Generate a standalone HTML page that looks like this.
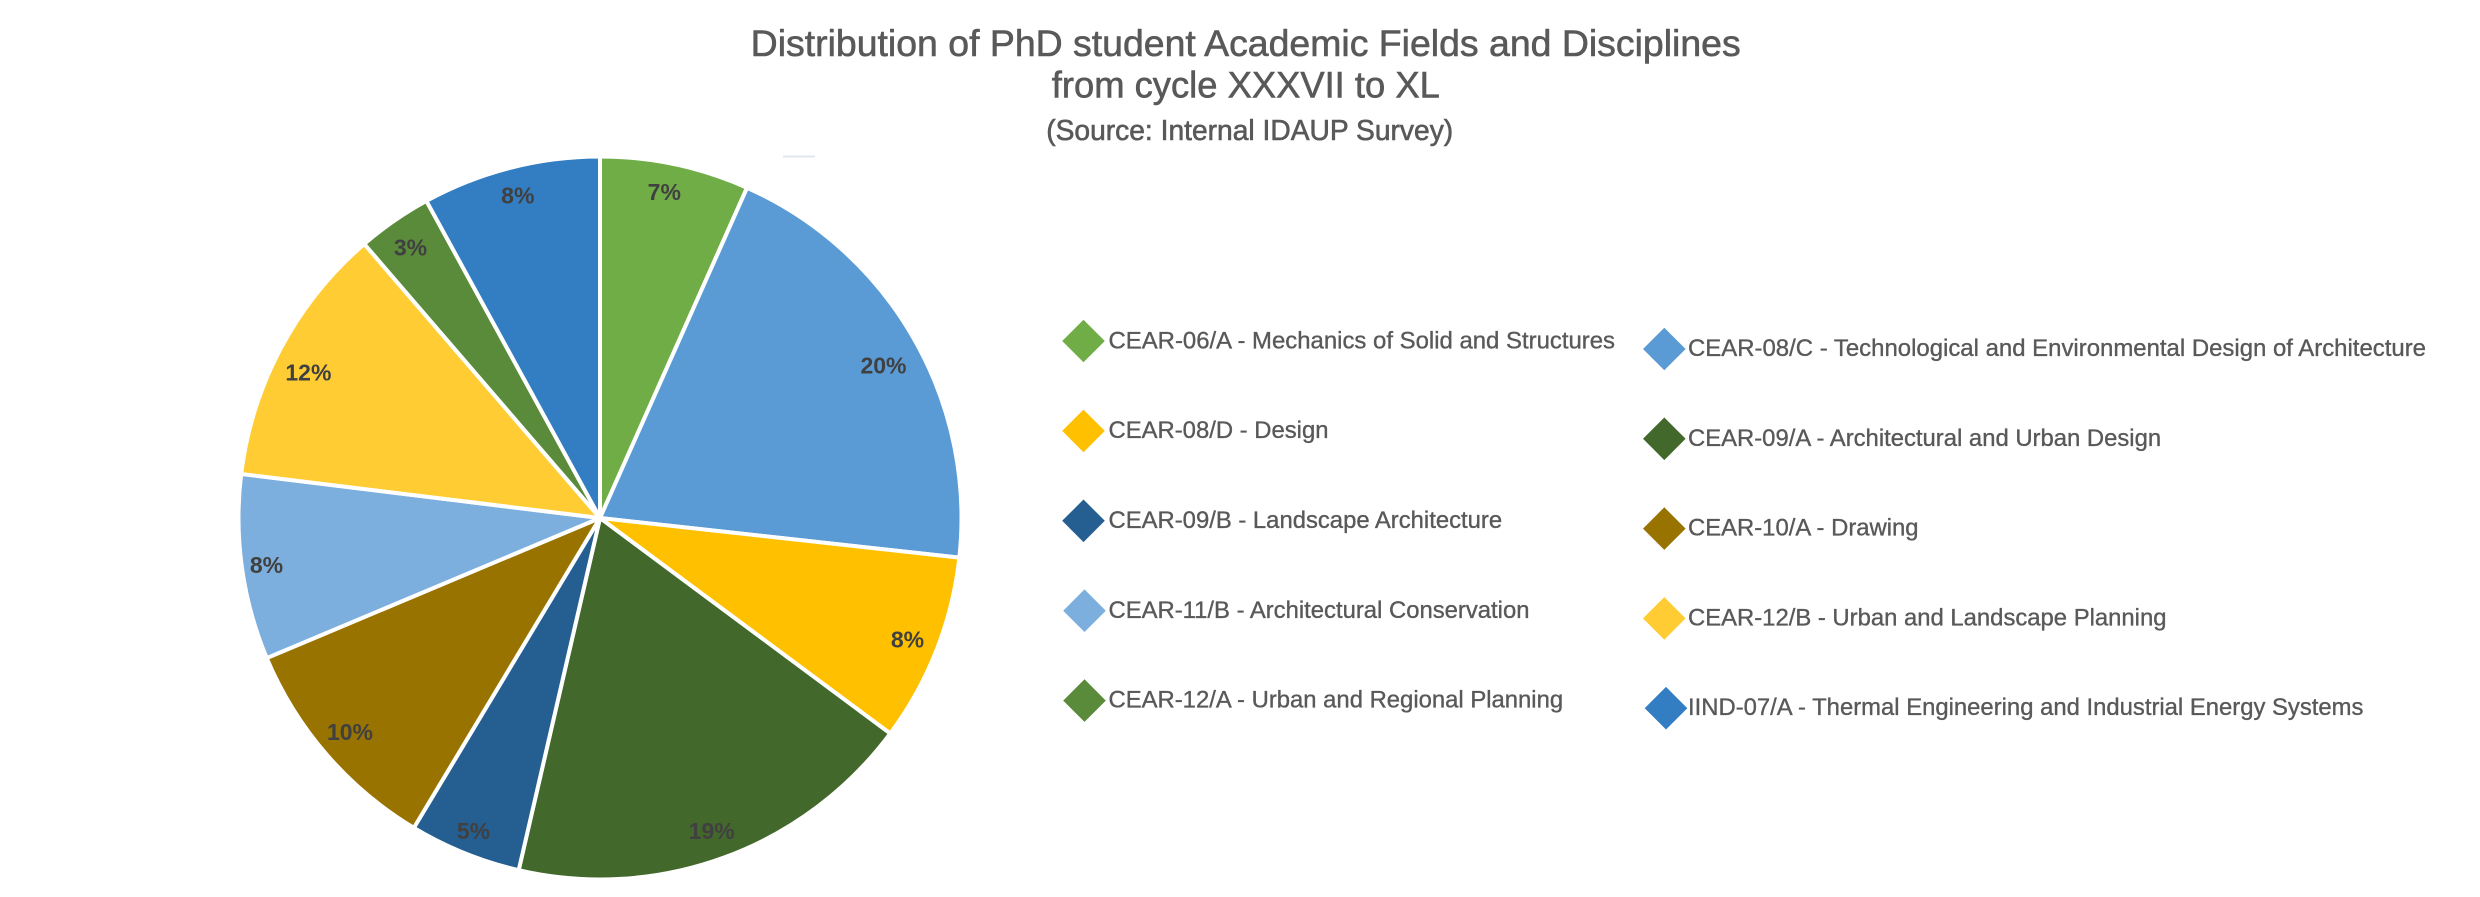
<!DOCTYPE html>
<html>
<head>
<meta charset="utf-8">
<style>
  html, body { margin: 0; padding: 0; background: #ffffff; }
  body { width: 2480px; height: 897px; overflow: hidden; }
  svg { display: block; }
  text { font-family: "Liberation Sans", Arial, Helvetica, sans-serif; }
</style>
</head>
<body>
<svg width="2480" height="897" viewBox="0 0 2480 897" xmlns="http://www.w3.org/2000/svg">
  <rect x="0" y="0" width="2480" height="897" fill="#ffffff"/>

  <!-- Title -->
  <g fill="#595959" stroke="#595959" stroke-width="0.6">
    <text x="1245.7" y="56" font-size="37.3" text-anchor="middle" textLength="990" lengthAdjust="spacingAndGlyphs">Distribution of PhD student Academic Fields and Disciplines</text>
    <text x="1245.8" y="97.7" font-size="36.8" text-anchor="middle" textLength="388" lengthAdjust="spacingAndGlyphs">from cycle XXXVII to XL</text>
    <text x="1249.7" y="140" font-size="28.3" text-anchor="middle" textLength="407" lengthAdjust="spacingAndGlyphs">(Source: Internal IDAUP Survey)</text>
  </g>

  <!-- faint artifact at top -->
  <rect x="783" y="155.5" width="32" height="2" fill="#dfe7f0"/>

  <!-- Pie -->
  <g stroke="#ffffff" stroke-width="4" stroke-linejoin="round">
    <path d="M600,518 L600,156.5 A361.5,361.5 0 0 1 747.04,187.75 Z" fill="#70AD47"/>
    <path d="M600,518 L747.04,187.75 A361.5,361.5 0 0 1 959.32,557.67 Z" fill="#5B9BD5"/>
    <path d="M600,518 L959.32,557.67 A361.5,361.5 0 0 1 890.22,733.53 Z" fill="#FFC000"/>
    <path d="M600,518 L890.22,733.53 A361.5,361.5 0 0 1 518.68,870.23 Z" fill="#43682B"/>
    <path d="M600,518 L518.68,870.23 A361.5,361.5 0 0 1 413.81,827.87 Z" fill="#255E91"/>
    <path d="M600,518 L413.81,827.87 A361.5,361.5 0 0 1 266.75,658.09 Z" fill="#997300"/>
    <path d="M600,518 L266.75,658.09 A361.5,361.5 0 0 1 241.19,473.94 Z" fill="#7CAFDD"/>
    <path d="M600,518 L241.19,473.94 A361.5,361.5 0 0 1 364.27,243.94 Z" fill="#FFCD33"/>
    <path d="M600,518 L364.27,243.94 A361.5,361.5 0 0 1 426.40,200.91 Z" fill="#5A8B3A"/>
    <path d="M600,518 L426.40,200.91 A361.5,361.5 0 0 1 600,156.5 Z" fill="#337DC2"/>
  </g>

  <!-- Data labels -->
  <g font-size="23" font-weight="bold" fill="#404040" text-anchor="middle">
    <text x="664.3" y="200">7%</text>
    <text x="883.5" y="373.3">20%</text>
    <text x="907.5" y="647.6">8%</text>
    <text x="711.7" y="838.8">19%</text>
    <text x="473.5" y="838.8">5%</text>
    <text x="350" y="740">10%</text>
    <text x="266.5" y="572.9">8%</text>
    <text x="308.4" y="380.7">12%</text>
    <text x="410.5" y="255.6">3%</text>
    <text x="517.8" y="203.3">8%</text>
  </g>

  <!-- Legend: left column -->
  <polygon points="1083.5,319.7 1104.8,341 1083.5,362.3 1062.2,341" fill="#70AD47"/>
  <polygon points="1083.5,409.6 1104.8,430.9 1083.5,452.2 1062.2,430.9" fill="#FFC000"/>
  <polygon points="1083.5,499.5 1104.8,520.8 1083.5,542.1 1062.2,520.8" fill="#255E91"/>
  <polygon points="1084.5,589.4 1105.8,610.7 1084.5,632 1063.2,610.7" fill="#7CAFDD"/>
  <polygon points="1084.5,679.3 1105.8,700.6 1084.5,721.9 1063.2,700.6" fill="#5A8B3A"/>

  <g font-size="23.85" fill="#595959" stroke="#595959" stroke-width="0.35">
    <text x="1108.5" y="348.3" textLength="506.5" lengthAdjust="spacingAndGlyphs">CEAR-06/A - Mechanics of Solid and Structures</text>
    <text x="1108.5" y="438">CEAR-08/D - Design</text>
    <text x="1108.5" y="527.9">CEAR-09/B - Landscape Architecture</text>
    <text x="1108.5" y="617.8">CEAR-11/B - Architectural Conservation</text>
    <text x="1108.5" y="707.7">CEAR-12/A - Urban and Regional Planning</text>
  </g>

  <!-- Legend: right column -->
  <polygon points="1664.3,327.7 1685.6,349 1664.3,370.3 1643,349" fill="#5B9BD5"/>
  <polygon points="1664.3,417.5 1685.6,438.8 1664.3,460.1 1643,438.8" fill="#43682B"/>
  <polygon points="1664.3,507.3 1685.6,528.6 1664.3,549.9 1643,528.6" fill="#997300"/>
  <polygon points="1664.3,597.1 1685.6,618.4 1664.3,639.7 1643,618.4" fill="#FFCD33"/>
  <polygon points="1666,686.9 1687.3,708.2 1666,729.5 1644.7,708.2" fill="#337DC2"/>

  <g font-size="23.85" fill="#595959" stroke="#595959" stroke-width="0.35">
    <text x="1688" y="356" textLength="738" lengthAdjust="spacingAndGlyphs">CEAR-08/C - Technological and Environmental Design of Architecture</text>
    <text x="1688" y="445.8">CEAR-09/A - Architectural and Urban Design</text>
    <text x="1688" y="535.6">CEAR-10/A - Drawing</text>
    <text x="1688" y="625.4">CEAR-12/B - Urban and Landscape Planning</text>
    <text x="1688" y="715.2">IIND-07/A - Thermal Engineering and Industrial Energy Systems</text>
  </g>
</svg>
</body>
</html>
